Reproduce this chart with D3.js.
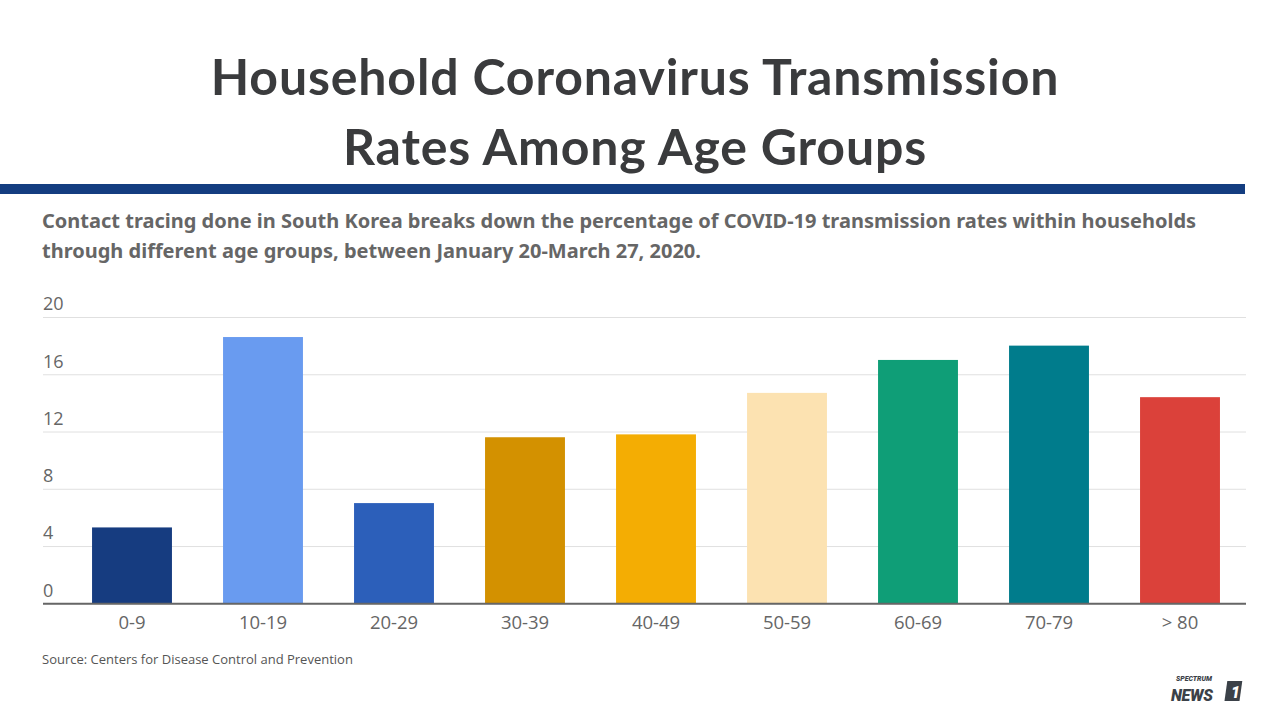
<!DOCTYPE html>
<html><head><meta charset="utf-8">
<script src="https://cdn.jsdelivr.net/npm/d3@7"></script>
<style>body{margin:0;background:#fff;}svg{display:block;}</style>
</head><body>
<svg id="c" width="1280" height="720"></svg>
<script>
const categories = ["0-9","10-19","20-29","30-39","40-49","50-59","60-69","70-79","> 80"];
const values = [5.3, 18.6, 7.0, 11.6, 11.8, 14.7, 17.0, 18.0, 14.4];
const colors = ["#163c80","#699bf0","#2c5fba","#d39100","#f4ad03","#fce2b1","#0f9e77","#007c8c","#db413a"];
const yTicks = [0,4,8,12,16,20];
const titleLines = ["Household Coronavirus Transmission","Rates Among Age Groups"];
const subtitleLines = ["Contact tracing done in South Korea breaks down the percentage of COVID-19 transmission rates within households","through different age groups, between January 20-March 27, 2020."];
const source = "Source: Centers for Disease Control and Prevention";

const svg = d3.select("#c");
// title
svg.selectAll("text.title").data(titleLines).join("text")
  .attr("class","title").attr("x",635).attr("y",(d,i)=>95+i*70)
  .attr("text-anchor","middle").attr("font-family","Lato, sans-serif").attr("font-weight",700)
  .attr("font-size",50).attr("letter-spacing",0.85).attr("fill","#3a3b3d").text(d=>d);
// band
svg.append("rect").attr("x",0).attr("y",184).attr("width",1245).attr("height",10).attr("fill","#143d80");
// subtitle
svg.selectAll("text.sub").data(subtitleLines).join("text")
  .attr("class","sub").attr("x",42).attr("y",(d,i)=>228+i*30)
  .attr("font-family","'Noto Sans', sans-serif").attr("font-weight",700)
  .attr("font-size",20).attr("fill","#666").text(d=>d);

const x = d3.scaleBand().domain(categories).range([66.5,1245.5]).paddingInner(0.39).paddingOuter(0.195);
const y = d3.scaleLinear().domain([0,20]).range([603.3,317]);

// gridlines
const yAxis = d3.axisLeft(y).tickValues(yTicks).tickSize(-1203).tickFormat(d=>d);
const gy = svg.append("g").attr("transform","translate(43,0)").call(yAxis);
gy.select(".domain").remove();
gy.selectAll(".tick line").attr("stroke","#e0e0e0").attr("stroke-width",1);
gy.selectAll(".tick text").attr("x",0).attr("dy","-0.4em").attr("text-anchor","start")
  .attr("font-family","'Open Sans', sans-serif").attr("font-size",18).attr("fill","#666");

// bars
svg.selectAll("rect.bar").data(values).join("rect").attr("class","bar")
  .attr("x",(d,i)=>x(categories[i])).attr("width",x.bandwidth())
  .attr("y",d=>y(d)).attr("height",d=>y(0)-y(d)).attr("fill",(d,i)=>colors[i]);

// x axis
const xAxis = d3.axisBottom(x).tickSize(0).tickPadding(13);
const gx = svg.append("g").attr("transform",`translate(0,${y(0)})`).call(xAxis);
gx.select(".domain").remove();
gx.selectAll(".tick text").attr("font-family","'Open Sans', sans-serif").attr("font-size",18.5).attr("fill","#666");
svg.append("line").attr("x1",43).attr("x2",1246).attr("y1",y(0)+0.5).attr("y2",y(0)+0.5).attr("stroke","#666").attr("stroke-width",2);

// source
svg.append("text").attr("x",42).attr("y",664).attr("font-family","'Open Sans', sans-serif")
  .attr("font-size",13).attr("fill","#555").text(source);

// logo
const lg = svg.append("g").attr("fill","#3b4148").attr("font-family","'Roboto', sans-serif").attr("font-style","italic").attr("font-weight",900);
lg.append("text").attr("x",1176).attr("y",681).attr("font-size",7).text("SPECTRUM");
lg.append("text").attr("x",1171).attr("y",701).attr("font-size",16).attr("letter-spacing",-0.3).text("NEWS");
lg.append("rect").attr("x",1227).attr("y",681).attr("width",15).attr("height",20).attr("transform","skewX(-8) translate(96,0)").attr("fill","#3b4148");
lg.append("text").attr("x",1231).attr("y",698).attr("font-size",16).attr("fill","#fff").text("1");
</script>
</body></html>
